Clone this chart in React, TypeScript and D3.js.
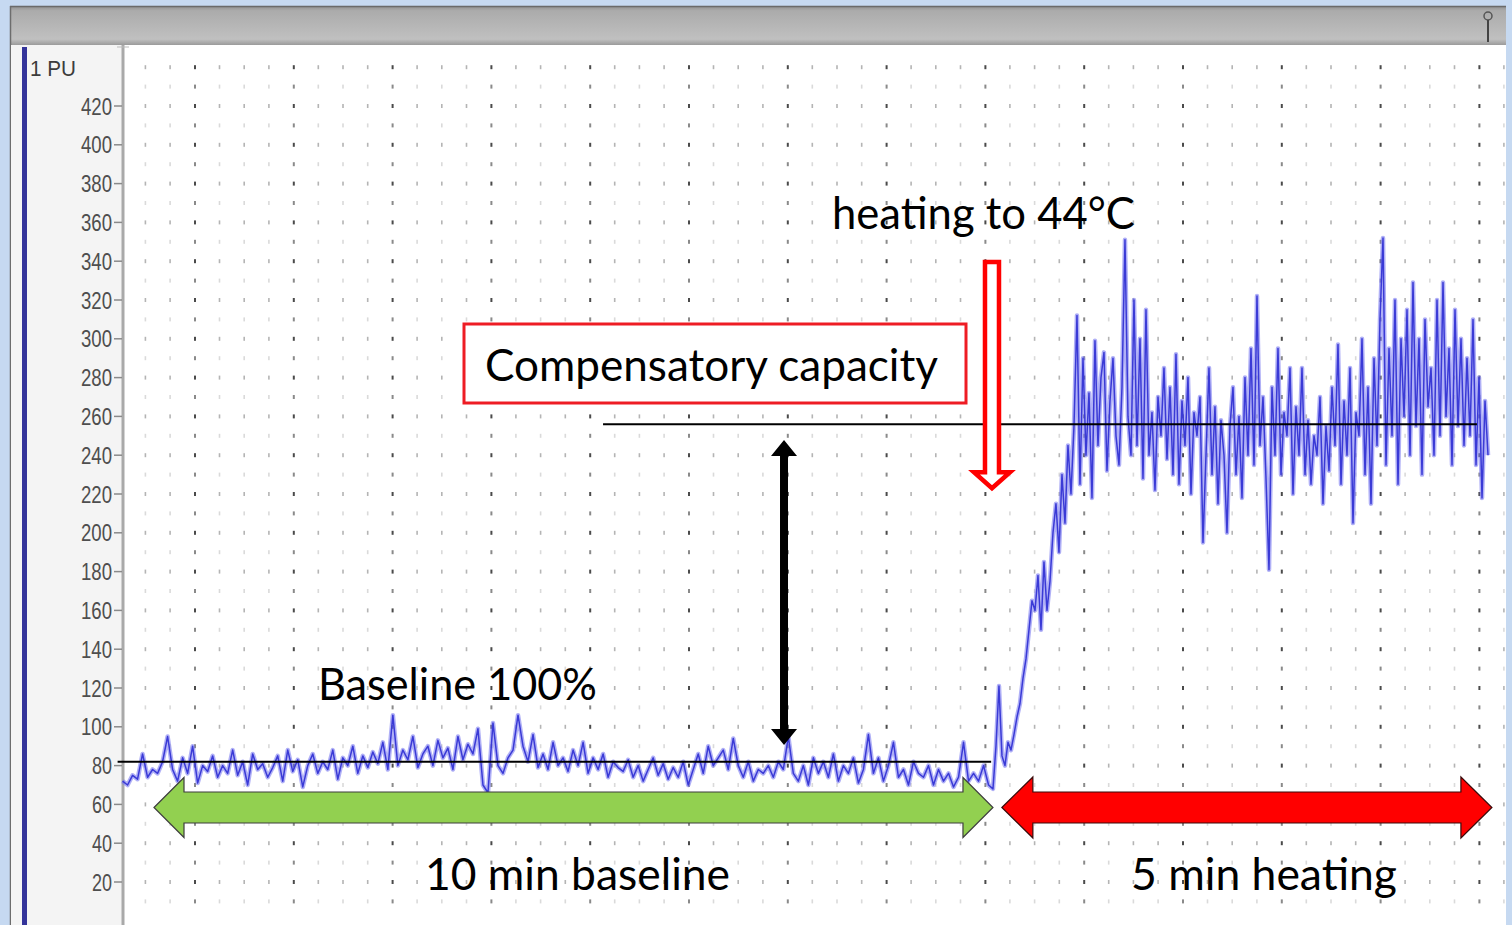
import React from 'react';
import * as d3 from 'd3';

// ---- data ----
const unitLabel = '1 PU';
const yTickLabels = [20, 40, 60, 80, 100, 120, 140, 160, 180, 200, 220, 240, 260, 280, 300, 320, 340, 360, 380, 400, 420];

// baseline laser-Doppler flux (PU), sampled every 3.04 s starting at t = 16 s
const baselineStart = 16;
const baselineStep = 3.04;
const baselineFlux = [
  72, 70, 75, 73, 86, 74, 78, 76, 82, 95,
  78, 72, 84, 76, 90, 71, 80, 77, 85, 74,
  80, 76, 88, 75, 82, 70, 86, 78, 81, 74,
  79, 85, 72, 88, 77, 83, 69, 80, 86, 76,
  82, 78, 88, 73, 84, 80, 90, 76, 85, 79,
  87, 81, 92, 78, 106, 80, 88, 83, 95, 79,
  86, 90, 80, 93, 84, 89, 78, 95, 83, 91,
  86, 99, 70, 66, 102, 80, 76, 84, 88, 106,
  90, 82, 96, 79, 86, 78, 92, 80, 84, 77,
  88, 80, 92, 76, 84, 78, 86, 74, 82, 79,
  77, 83, 74, 80, 72, 78, 84, 75, 81, 73,
  79, 74, 82, 70, 78, 86, 76, 90, 80, 84,
  88, 78, 94, 80, 74, 82, 72, 78, 76, 80,
  74, 82, 78, 95, 76, 72, 80, 70, 84, 76,
  82, 74, 86, 72, 80, 76, 84, 71, 78, 96,
  76, 84, 72, 80, 92, 74, 78, 70, 82, 76,
  74, 80, 70, 78, 72, 76, 69, 74, 92, 72,
  76, 72, 80, 70,
];

// heating response flux (PU), sampled every 1.822 s starting at t = 544.6 s
const heatingStart = 544.6;
const heatingStep = 1.822;
const heatingFlux = [
  68, 90, 121, 85, 80, 92, 88, 96, 105, 112,
  125, 135, 150, 165, 160, 178, 150, 185, 160, 175,
  200, 215, 190, 230, 205, 245, 220, 255,
  312, 225, 290, 240, 272, 218, 299, 245, 280, 293,
  232, 268, 290, 250, 235, 275, 351, 260, 240, 320,
  245, 300, 228, 315, 240, 262, 222, 270, 250, 285,
  238, 275, 230, 292, 225, 268, 245, 280, 220, 262,
  250, 270, 195, 240, 285, 230, 265, 215, 258, 240,
  200, 255, 275, 230, 260, 218, 280, 240, 295, 235,
  322, 245, 270, 228, 181, 275, 240, 295, 230, 262,
  250, 285, 220, 265, 240, 285, 230, 258, 225, 250,
  240, 270, 215, 255, 232, 275, 245, 297, 225, 268,
  240, 285, 205, 262, 250, 300, 230, 275, 215, 290,
  245, 310, 352, 235, 295, 250, 320, 225, 300, 260,
  315, 240, 329, 255, 300, 230, 310, 265, 285, 240,
  320, 250, 329, 260, 295, 235, 315, 255, 300, 245,
  290, 250, 310, 235, 280, 218, 268, 240,
];

const baselineLevel = 82;   // "Baseline 100%"
const heatingLevel = 256;   // plateau during heating

const annotationTexts = {
  heating: 'heating to 44°C',
  capacity: 'Compensatory capacity',
  baseline: 'Baseline 100%',
  baselineSpan: '10 min baseline',
  heatingSpan: '5 min heating',
};

// ---- layout ----
const W = 1512;
const H = 925;
const plotLeft = 125;
const plotRight = 1505;
const pxPerSec = 98.8 / 60;
const tAtLeft = (plotLeft - 96.2) / pxPerSec;

const x = d3.scaleLinear().domain([tAtLeft, tAtLeft + (plotRight - plotLeft) / pxPerSec]).range([plotLeft, plotRight]);
const y = d3.scaleLinear().domain([0, 440]).range([920.8, 67.2]);

const FONT = 'Lato, "Open Sans", sans-serif';

function doubleArrow(x0: number, x1: number, cy: number, head: number, halfH: number, halfShaft: number) {
  return [
    [x0, cy], [x0 + head, cy - halfH], [x0 + head, cy - halfShaft], [x1 - head, cy - halfShaft],
    [x1 - head, cy - halfH], [x1, cy], [x1 - head, cy + halfH], [x1 - head, cy + halfShaft],
    [x0 + head, cy + halfShaft], [x0 + head, cy + halfH],
  ].map(p => p.join(',')).join(' ');
}

export default function App() {
  const basePts: [number, number][] = baselineFlux.map((v, i) => [x(baselineStart + i * baselineStep), y(v)]);
  const heatPts: [number, number][] = heatingFlux.map((v, i) => [x(heatingStart + i * heatingStep), y(v)]);
  const allPts = basePts.concat(heatPts);
  const tracePath = d3.line()(allPts) || '';

  // grid
  const gridCols: { t: number; major: boolean }[] = [];
  for (let t = 30; t <= 855; t += 15) gridCols.push({ t, major: t % 60 === 0 });
  const gridRows: { v: number; major: boolean }[] = [];
  for (let v = 10; v <= 440; v += 10) gridRows.push({ v, major: v % 20 === 0 });

  // annotation geometry from scales
  const blackArrowX = x(417.7);
  const blackTop = y(247.8);
  const blackBot = y(90.6);
  const redArrowX = x(544);
  const redTop = y(339.6);
  const redTip = y(223);
  const arrowsY = y(58.4);

  const blackArrowPts = [
    [blackArrowX, blackTop], [blackArrowX + 13, blackTop + 16], [blackArrowX + 4, blackTop + 16],
    [blackArrowX + 4, blackBot - 16], [blackArrowX + 13, blackBot - 16], [blackArrowX, blackBot],
    [blackArrowX - 13, blackBot - 16], [blackArrowX - 4, blackBot - 16], [blackArrowX - 4, blackTop + 16],
    [blackArrowX - 13, blackTop + 16],
  ].map(p => p.join(',')).join(' ');

  const redHeadBase = redTip - 16;
  const redArrowPts = [
    [redArrowX - 7, redTop], [redArrowX + 7, redTop], [redArrowX + 7, redHeadBase],
    [redArrowX + 18, redHeadBase], [redArrowX, redTip], [redArrowX - 18, redHeadBase],
    [redArrowX - 7, redHeadBase],
  ].map(p => p.join(',')).join(' ');

  return (
    <svg width={W} height={H} viewBox={`0 0 ${W} ${H}`} style={{ position: 'fixed', left: 0, top: 0, display: 'block' }}>
      <defs>
        <linearGradient id="titlebar" x1="0" y1="0" x2="0" y2="1">
          <stop offset="0" stopColor="#909090" />
          <stop offset="0.12" stopColor="#ababab" />
          <stop offset="0.85" stopColor="#c0c0c0" />
          <stop offset="1" stopColor="#9a9a9a" />
        </linearGradient>
      </defs>
      {/* frame */}
      <rect x={0} y={0} width={W} height={H} fill="#c6d9f1" />
      <rect x={10} y={6} width={1496} height={H} fill="#ffffff" />
      <rect x={10} y={6} width={1496} height={39} fill="url(#titlebar)" />
      <line x1={10} y1={6.5} x2={1506} y2={6.5} stroke="#6a6a6a" strokeWidth={1.5} />
      <line x1={10.5} y1={6} x2={10.5} y2={H} stroke="#6d6d6d" strokeWidth={1.5} />
      {/* pin icon */}
      <circle cx={1488} cy={16} r={4} fill="none" stroke="#555" strokeWidth={1.5} />
      <line x1={1488} y1={20} x2={1488} y2={42} stroke="#444" strokeWidth={2} />
      {/* left panel */}
      <rect x={11} y={45} width={112} height={H - 45} fill="#f4f4f4" />
      <rect x={22} y={47} width={5} height={H - 47} fill="#34349a" />
      <line x1={123} y1={45} x2={123} y2={H} stroke="#a9a9a9" strokeWidth={3} />
      <line x1={117} y1={47} x2={129} y2={47} stroke="#bbb" strokeWidth={1} />
      <text x={30} y={76} fontFamily="'Liberation Sans', Arial, sans-serif" fontSize={22} fill="#3c3c3c" textLength={46} lengthAdjust="spacingAndGlyphs">{unitLabel}</text>
      {yTickLabels.map(v => (
        <g key={v}>
          <line x1={114} x2={122} y1={y(v)} y2={y(v)} stroke="#8a8a8a" strokeWidth={1.5} />
          <text x={112} y={y(v) + 8.5} textAnchor="end" fontFamily="'Liberation Sans', Arial, sans-serif" fontSize={23}
            fill="#4e4e4e" textLength={v >= 100 ? 31 : 20} lengthAdjust="spacingAndGlyphs">{v}</text>
        </g>
      ))}
      {/* dotted grid */}
      <g>
        {gridRows.map(r => gridCols.map(c => (
          <rect key={`${r.v}-${c.t}`} x={x(c.t) - 1} y={y(r.v) - 2} width={c.major ? 2 : 1.6} height={4}
            fill={c.major ? (r.major ? '#4a4a4a' : '#8a8a8a') : (r.major ? '#b4b4b4' : '#dadada')} />
        )))}
      </g>
      {/* trace */}
      <path d={tracePath} fill="none" stroke="#7b7bf0" strokeWidth={4.5} strokeLinejoin="round" opacity={0.6} />
      <path d={tracePath} fill="none" stroke="#3a3ad6" strokeWidth={1.5} strokeLinejoin="round" />
      {/* reference levels */}
      <line x1={x(13)} x2={x(543.5)} y1={y(baselineLevel)} y2={y(baselineLevel)} stroke="#000" strokeWidth={2} />
      <line x1={x(307.8)} x2={x(838.5)} y1={y(heatingLevel)} y2={y(heatingLevel)} stroke="#000" strokeWidth={2} />
      {/* black double arrow */}
      <polygon points={blackArrowPts} fill="#000" />
      {/* red hollow arrow */}
      <polygon points={redArrowPts} fill="#fff" stroke="#ff0000" strokeWidth={4.5} strokeLinejoin="miter" />
      {/* compensatory capacity box */}
      <rect x={464} y={324} width={502} height={79} fill="#fff" stroke="#ee1c24" strokeWidth={3} />
      <text x={485} y={381} fontFamily={FONT} fontSize={45} fill="#000" textLength={453} lengthAdjust="spacingAndGlyphs">{annotationTexts.capacity}</text>
      <text x={832} y={229} fontFamily={FONT} fontSize={45} fill="#000" textLength={303} lengthAdjust="spacingAndGlyphs">{annotationTexts.heating}</text>
      <text x={318} y={700} fontFamily={FONT} fontSize={45} fill="#000" textLength={279} lengthAdjust="spacingAndGlyphs">{annotationTexts.baseline}</text>
      {/* span arrows */}
      <polygon points={doubleArrow(x(35.1), x(544.6), arrowsY, 30, 30, 15.5)} fill="#92d050" stroke="#3d3d3d" strokeWidth={1.2} />
      <polygon points={doubleArrow(x(550), x(847.6), arrowsY, 31, 30.5, 15.5)} fill="#ff0000" stroke="#3a0a0a" strokeWidth={1.2} />
      <text x={425} y={890} fontFamily={FONT} fontSize={45} fill="#000" textLength={305} lengthAdjust="spacingAndGlyphs">{annotationTexts.baselineSpan}</text>
      <text x={1131} y={890} fontFamily={FONT} fontSize={45} fill="#000" textLength={266} lengthAdjust="spacingAndGlyphs">{annotationTexts.heatingSpan}</text>
      {/* right frame edge */}
      <rect x={1506} y={0} width={6} height={H} fill="#c6d9f1" />
    </svg>
  );
}
